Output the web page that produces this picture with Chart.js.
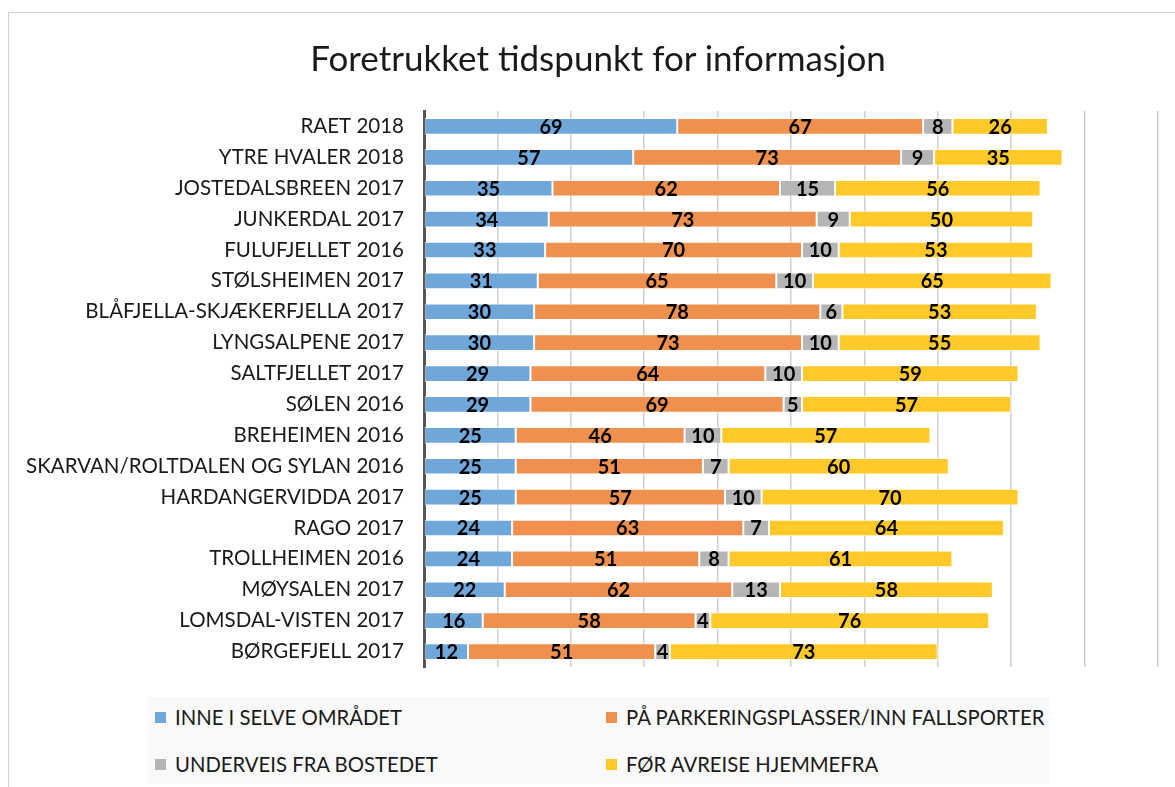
<!DOCTYPE html>
<html>
<head>
<meta charset="utf-8">
<script src="https://cdn.jsdelivr.net/npm/chart.js@4.4.1/dist/chart.umd.min.js"></script>
<style>
  html, body { margin:0; padding:0; background:#fff; }
  body { width:1175px; height:787px; position:relative; overflow:hidden; font-family: Lato, "Open Sans", sans-serif; }
  #frame { position:absolute; left:8px; top:12px; width:1300px; height:900px; border-left:1px solid #d0d0d0; border-top:1px solid #d0d0d0; }
  #title { position:absolute; left:0; width:1196px; top:36px; text-align:center; font-size:35px; line-height:42px; color:#1a1a1a; font-family: Lato, sans-serif; }
  #wrap { position:absolute; left:0; top:0; width:1175px; height:787px; }
  #legend { position:absolute; left:147px; top:697px; width:903px; height:87px; background:#f9f9f9; }
  .li { position:absolute; font-size:20.3px; color:#1a1a1a; white-space:nowrap; line-height:22px; }
  .sw { display:inline-block; width:11px; height:11px; margin-right:9px; vertical-align:2px; }
</style>
</head>
<body>
<div id="frame"></div>
<div id="wrap"><canvas id="c" width="1175" height="787"></canvas></div>
<div id="title">Foretrukket tidspunkt for informasjon</div>
<div id="legend"></div>
<script>
const categories = [
  "RAET 2018","YTRE HVALER 2018","JOSTEDALSBREEN 2017","JUNKERDAL 2017","FULUFJELLET 2016",
  "STØLSHEIMEN 2017","BLÅFJELLA-SKJÆKERFJELLA 2017","LYNGSALPENE 2017","SALTFJELLET 2017",
  "SØLEN 2016","BREHEIMEN 2016","SKARVAN/ROLTDALEN OG SYLAN 2016","HARDANGERVIDDA 2017",
  "RAGO 2017","TROLLHEIMEN 2016","MØYSALEN 2017","LOMSDAL-VISTEN 2017","BØRGEFJELL 2017"
];
const seriesNames = ["INNE I SELVE OMRÅDET","PÅ PARKERINGSPLASSER/INN FALLSPORTER","UNDERVEIS FRA BOSTEDET","FØR AVREISE HJEMMEFRA"];
const inneISelveOmradet   = [69,57,35,34,33,31,30,30,29,29,25,25,25,24,24,22,16,12];
const paParkeringsplasser = [67,73,62,73,70,65,78,73,64,69,46,51,57,63,51,62,58,51];
const underveisFraBosted  = [8,9,15,9,10,10,6,10,10,5,10,7,10,7,8,13,4,4];
const forAvreiseHjemmefra = [26,35,56,50,53,65,53,55,59,57,57,60,70,64,61,58,76,73];
const xTicks = [0,20,40,60,80,100,120,140,160,180,200];
const colors = ["#70a7db","#f0904f","#b5b5b5","#ffc92a"];

const allSeries = [inneISelveOmradet, paParkeringsplasser, underveisFraBosted, forAvreiseHjemmefra];

const labelPlugin = {
  id: 'barLabels',
  afterDatasetsDraw(chart) {
    const ctx = chart.ctx;
    ctx.save();
    ctx.font = 'bold 20px Lato, "Open Sans", sans-serif';
    ctx.fillStyle = '#000';
    ctx.textAlign = 'center';
    ctx.textBaseline = 'middle';
    chart.data.datasets.forEach((ds, di) => {
      const meta = chart.getDatasetMeta(di);
      meta.data.forEach((el, i) => {
        const v = ds.data[i];
        const cx = (el.x + el.base) / 2;
        ctx.fillText(String(v), cx, el.y + 1);
      });
    });
    ctx.restore();
  }
};

new Chart(document.getElementById('c'), {
  type: 'bar',
  data: {
    labels: categories,
    datasets: allSeries.map((d, i) => ({
      label: seriesNames[i],
      data: d,
      backgroundColor: colors[i],
      borderColor: 'rgba(255,255,255,0.7)',
      borderWidth: 1,
      borderSkipped: false,
      categoryPercentage: 1,
      barPercentage: 0.54
    }))
  },
  options: {
    indexAxis: 'y',
    responsive: false,
    animation: false,
    devicePixelRatio: 1,
    layout: { padding: { top: 111, bottom: 120, left: 0, right: 17 } },
    plugins: { legend: { display: false }, title: { display: false }, tooltip: { enabled: false } },
    scales: {
      x: {
        stacked: true,
        min: 0, max: 200,
        afterBuildTicks(s) { s.ticks = xTicks.map(v => ({ value: v })); },
        ticks: { display: false },
        grid: { color: '#cfcfcf', lineWidth: 1.5, drawTicks: false },
        border: { display: false },
        afterFit(s) { s.height = 0; }
      },
      y: {
        stacked: true,
        grid: { display: false, drawTicks: false },
        border: { display: true, color: '#555', width: 3 },
        ticks: { color: '#1a1a1a', font: { family: 'Lato, "Open Sans", sans-serif', size: 20.5 }, padding: 20, autoSkip: false },
        afterFit(s) { s.width = 424; }
      }
    }
  },
  plugins: [labelPlugin]
});

const lg = document.getElementById('legend');
const pos = [[8,9],[459,9],[8,56],[459,56]];
seriesNames.forEach((n, i) => {
  const d = document.createElement('div');
  d.className = 'li';
  d.style.left = pos[i][0] + 'px';
  d.style.top = pos[i][1] + 'px';
  d.innerHTML = '<span class="sw" style="background:' + colors[i] + '"></span>' + n;
  lg.appendChild(d);
});
</script>
</body>
</html>
